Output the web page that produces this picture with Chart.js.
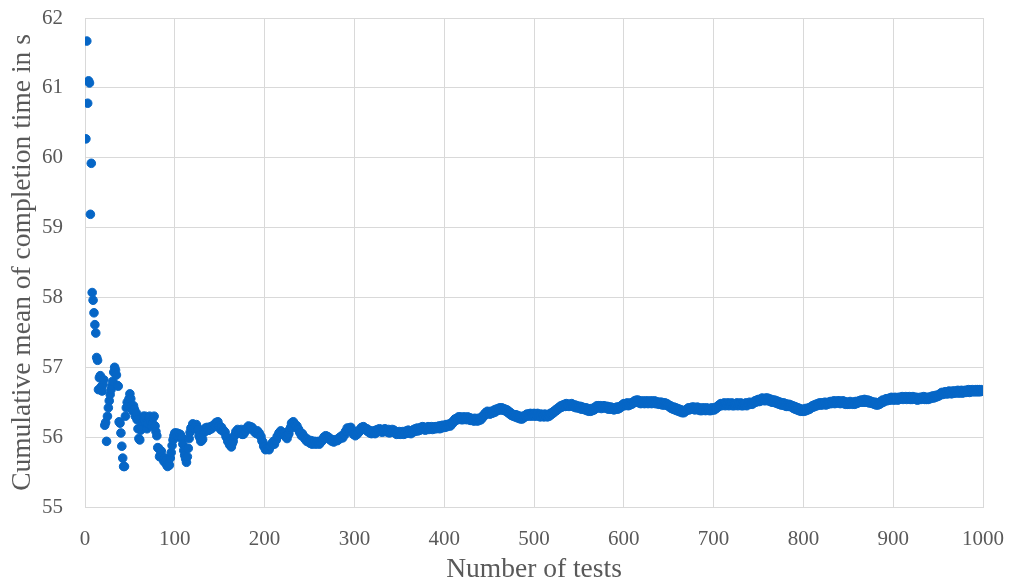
<!DOCTYPE html>
<html>
<head>
<meta charset="utf-8">
<title>Cumulative mean of completion time</title>
<script src="https://cdn.jsdelivr.net/npm/chart.js@4/dist/chart.umd.min.js"></script>
<style>
  html, body { margin: 0; padding: 0; background: #ffffff; }
  #wrap { width: 1009px; height: 582px; }
</style>
</head>
<body>
<div id="wrap"><canvas id="chart" width="1009" height="582"></canvas></div>
<script>
// Axis text
const xAxisTitle = 'Number of tests';
const yAxisTitle = 'Cumulative mean of completion time in s';
const xTickValues = [0, 100, 200, 300, 400, 500, 600, 700, 800, 900, 1000];
const yTickValues = [55, 56, 57, 58, 59, 60, 61, 62];

// Cumulative mean (s) after each test, tests 1..1000 in blocks of 100
const meanTests001to100 = [
  60.27, 61.67, 60.78, 61.10, 61.07, 59.19, 59.92, 58.07, 57.96, 57.78,
  57.61, 57.49, 57.14, 57.10, 56.68, 56.85, 56.88, 56.72, 56.66, 56.75,
  56.82, 56.17, 56.21, 55.94, 56.30, 56.42, 56.52, 56.61, 56.68, 56.74,
  56.80, 56.93, 57.00, 56.96, 56.89, 56.74, 56.73, 56.22, 56.20, 56.06,
  55.87, 55.70, 55.58, 55.58, 56.30, 56.42, 56.50, 56.45, 56.55, 56.62,
  56.55, 56.45, 56.38, 56.45, 56.40, 56.30, 56.35, 56.25, 56.12, 55.98,
  55.96, 56.10, 56.15, 56.22, 56.30, 56.25, 56.30, 56.20, 56.12, 56.20,
  56.28, 56.30, 56.22, 56.16, 56.20, 56.28, 56.30, 56.16, 56.08, 56.02,
  55.85, 55.84, 55.72, 55.75, 55.80, 55.72, 55.68, 55.65, 55.70, 55.66,
  55.60, 55.58, 55.62, 55.60, 55.70, 55.78, 55.88, 55.96, 56.02, 56.06
];
const meanTests101to200 = [
  56.03, 56.06, 56.02, 56.05, 56.00, 56.04, 56.01, 55.99, 55.90, 55.81,
  55.74, 55.69, 55.64, 55.72, 55.84, 55.98, 56.07, 56.13, 56.14, 56.19,
  56.14, 56.13, 56.12, 56.18, 56.14, 56.11, 56.02, 55.99, 55.94, 55.95,
  55.97, 56.06, 56.09, 56.13, 56.09, 56.14, 56.10, 56.10, 56.11, 56.15,
  56.12, 56.16, 56.15, 56.18, 56.16, 56.21, 56.18, 56.22, 56.16, 56.16,
  56.11, 56.14, 56.09, 56.10, 56.08, 56.07, 56.01, 55.99, 55.94, 55.93,
  55.89, 55.89, 55.86, 55.91, 55.94, 56.01, 56.03, 56.08, 56.08, 56.11,
  56.07, 56.07, 56.07, 56.11, 56.04, 56.04, 56.05, 56.09, 56.09, 56.13,
  56.13, 56.16, 56.12, 56.15, 56.14, 56.14, 56.11, 56.11, 56.07, 56.08,
  56.05, 56.09, 56.06, 56.06, 56.02, 56.01, 55.95, 55.93, 55.87, 55.86
];
const meanTests201to300 = [
  55.82, 55.83, 55.83, 55.83, 55.82, 55.87, 55.87, 55.91, 55.91, 55.94,
  55.90, 55.95, 55.96, 56.01, 56.02, 56.06, 56.06, 56.09, 56.05, 56.06,
  56.06, 56.06, 56.01, 56.01, 55.98, 56.03, 56.05, 56.11, 56.14, 56.20,
  56.21, 56.22, 56.19, 56.18, 56.15, 56.16, 56.12, 56.11, 56.07, 56.06,
  56.02, 56.05, 56.01, 56.01, 55.97, 55.98, 55.94, 55.97, 55.93, 55.94,
  55.91, 55.95, 55.90, 55.91, 55.91, 55.94, 55.90, 55.93, 55.93, 55.94,
  55.90, 55.93, 55.93, 55.96, 55.96, 56.00, 55.99, 56.02, 56.01, 56.01,
  55.98, 55.99, 55.96, 55.97, 55.94, 55.96, 55.93, 55.96, 55.95, 55.96,
  55.95, 55.98, 55.97, 56.00, 55.99, 56.02, 55.99, 56.03, 56.03, 56.08,
  56.09, 56.13, 56.12, 56.13, 56.09, 56.14, 56.11, 56.09, 56.04, 56.04
];
const meanTests301to400 = [
  56.02, 56.05, 56.04, 56.08, 56.07, 56.11, 56.10, 56.14, 56.12, 56.15,
  56.11, 56.13, 56.10, 56.12, 56.08, 56.10, 56.06, 56.09, 56.05, 56.08,
  56.06, 56.09, 56.05, 56.10, 56.07, 56.11, 56.08, 56.12, 56.08, 56.10,
  56.07, 56.11, 56.08, 56.12, 56.09, 56.10, 56.07, 56.11, 56.06, 56.09,
  56.07, 56.11, 56.08, 56.10, 56.06, 56.08, 56.04, 56.07, 56.05, 56.08,
  56.04, 56.07, 56.05, 56.08, 56.04, 56.06, 56.05, 56.09, 56.06, 56.10,
  56.06, 56.08, 56.05, 56.09, 56.07, 56.11, 56.08, 56.12, 56.09, 56.13,
  56.09, 56.12, 56.10, 56.14, 56.11, 56.15, 56.11, 56.14, 56.10, 56.13,
  56.12, 56.15, 56.11, 56.14, 56.12, 56.15, 56.11, 56.13, 56.12, 56.15,
  56.12, 56.15, 56.13, 56.16, 56.12, 56.16, 56.13, 56.17, 56.14, 56.16
];
const meanTests401to500 = [
  56.14, 56.18, 56.15, 56.18, 56.16, 56.19, 56.16, 56.20, 56.19, 56.23,
  56.22, 56.26, 56.24, 56.27, 56.25, 56.29, 56.26, 56.29, 56.25, 56.28,
  56.25, 56.29, 56.26, 56.28, 56.25, 56.29, 56.26, 56.28, 56.24, 56.27,
  56.24, 56.26, 56.23, 56.27, 56.24, 56.26, 56.23, 56.27, 56.24, 56.27,
  56.25, 56.29, 56.28, 56.32, 56.31, 56.35, 56.33, 56.37, 56.34, 56.36,
  56.33, 56.37, 56.34, 56.37, 56.35, 56.39, 56.36, 56.40, 56.38, 56.41,
  56.39, 56.42, 56.39, 56.42, 56.39, 56.41, 56.38, 56.40, 56.37, 56.39,
  56.35, 56.37, 56.33, 56.35, 56.31, 56.33, 56.30, 56.32, 56.29, 56.32,
  56.28, 56.31, 56.27, 56.30, 56.26, 56.29, 56.26, 56.30, 56.28, 56.31,
  56.30, 56.33, 56.30, 56.33, 56.31, 56.34, 56.30, 56.33, 56.31, 56.34
];
const meanTests501to600 = [
  56.30, 56.33, 56.31, 56.34, 56.30, 56.32, 56.29, 56.33, 56.30, 56.32,
  56.29, 56.33, 56.30, 56.32, 56.29, 56.32, 56.30, 56.34, 56.32, 56.35,
  56.34, 56.37, 56.36, 56.39, 56.38, 56.41, 56.40, 56.43, 56.42, 56.45,
  56.43, 56.46, 56.44, 56.47, 56.44, 56.48, 56.45, 56.47, 56.44, 56.47,
  56.45, 56.48, 56.44, 56.46, 56.43, 56.46, 56.42, 56.45, 56.42, 56.44,
  56.41, 56.44, 56.40, 56.43, 56.40, 56.42, 56.39, 56.42, 56.38, 56.41,
  56.37, 56.40, 56.37, 56.41, 56.38, 56.41, 56.39, 56.43, 56.41, 56.45,
  56.42, 56.45, 56.42, 56.45, 56.41, 56.44, 56.42, 56.45, 56.42, 56.44,
  56.41, 56.44, 56.40, 56.43, 56.40, 56.43, 56.40, 56.42, 56.39, 56.42,
  56.40, 56.43, 56.40, 56.43, 56.41, 56.44, 56.43, 56.46, 56.45, 56.48
];
const meanTests601to700 = [
  56.45, 56.48, 56.46, 56.49, 56.45, 56.48, 56.46, 56.49, 56.47, 56.50,
  56.49, 56.52, 56.50, 56.53, 56.50, 56.53, 56.49, 56.52, 56.48, 56.51,
  56.49, 56.52, 56.48, 56.51, 56.49, 56.52, 56.48, 56.51, 56.49, 56.52,
  56.48, 56.51, 56.49, 56.52, 56.48, 56.51, 56.48, 56.50, 56.47, 56.50,
  56.47, 56.50, 56.46, 56.49, 56.46, 56.49, 56.46, 56.48, 56.45, 56.46,
  56.43, 56.45, 56.41, 56.43, 56.40, 56.43, 56.39, 56.42, 56.38, 56.41,
  56.37, 56.40, 56.36, 56.39, 56.35, 56.38, 56.35, 56.38, 56.37, 56.40,
  56.39, 56.42, 56.39, 56.42, 56.40, 56.43, 56.40, 56.43, 56.39, 56.42,
  56.40, 56.43, 56.39, 56.42, 56.38, 56.41, 56.38, 56.42, 56.39, 56.41,
  56.38, 56.42, 56.39, 56.41, 56.38, 56.41, 56.38, 56.42, 56.39, 56.41
];
const meanTests701to800 = [
  56.39, 56.42, 56.41, 56.44, 56.43, 56.46, 56.45, 56.48, 56.45, 56.48,
  56.46, 56.49, 56.45, 56.48, 56.46, 56.49, 56.45, 56.48, 56.46, 56.49,
  56.45, 56.48, 56.45, 56.48, 56.46, 56.49, 56.45, 56.48, 56.46, 56.49,
  56.45, 56.48, 56.45, 56.48, 56.46, 56.49, 56.45, 56.48, 56.47, 56.50,
  56.47, 56.49, 56.47, 56.50, 56.49, 56.52, 56.50, 56.53, 56.51, 56.54,
  56.51, 56.54, 56.52, 56.56, 56.53, 56.55, 56.52, 56.56, 56.53, 56.56,
  56.52, 56.55, 56.51, 56.54, 56.50, 56.53, 56.50, 56.53, 56.49, 56.52,
  56.48, 56.51, 56.47, 56.50, 56.46, 56.49, 56.46, 56.49, 56.45, 56.48,
  56.44, 56.47, 56.44, 56.47, 56.44, 56.46, 56.43, 56.45, 56.41, 56.44,
  56.40, 56.43, 56.39, 56.42, 56.38, 56.41, 56.37, 56.40, 56.37, 56.39
];
const meanTests801to900 = [
  56.37, 56.41, 56.38, 56.41, 56.39, 56.42, 56.40, 56.43, 56.42, 56.45,
  56.43, 56.46, 56.44, 56.47, 56.45, 56.48, 56.46, 56.49, 56.46, 56.49,
  56.46, 56.49, 56.47, 56.50, 56.46, 56.49, 56.47, 56.50, 56.48, 56.51,
  56.48, 56.51, 56.49, 56.52, 56.48, 56.51, 56.49, 56.52, 56.49, 56.52,
  56.48, 56.51, 56.49, 56.52, 56.48, 56.51, 56.47, 56.50, 56.47, 56.50,
  56.47, 56.51, 56.48, 56.50, 56.47, 56.50, 56.47, 56.51, 56.48, 56.51,
  56.49, 56.52, 56.50, 56.53, 56.50, 56.53, 56.50, 56.54, 56.50, 56.53,
  56.50, 56.53, 56.49, 56.52, 56.49, 56.51, 56.48, 56.50, 56.47, 56.50,
  56.46, 56.49, 56.46, 56.49, 56.47, 56.51, 56.49, 56.53, 56.50, 56.53,
  56.52, 56.55, 56.52, 56.55, 56.53, 56.56, 56.53, 56.57, 56.54, 56.56
];
const meanTests901to1000 = [
  56.53, 56.57, 56.54, 56.56, 56.53, 56.57, 56.54, 56.57, 56.55, 56.58,
  56.54, 56.57, 56.55, 56.58, 56.54, 56.57, 56.55, 56.58, 56.54, 56.57,
  56.54, 56.58, 56.55, 56.57, 56.54, 56.57, 56.53, 56.56, 56.54, 56.57,
  56.54, 56.57, 56.55, 56.58, 56.54, 56.57, 56.54, 56.57, 56.54, 56.57,
  56.55, 56.58, 56.56, 56.59, 56.56, 56.59, 56.57, 56.60, 56.58, 56.60,
  56.59, 56.62, 56.61, 56.64, 56.61, 56.64, 56.62, 56.65, 56.62, 56.65,
  56.62, 56.66, 56.63, 56.65, 56.62, 56.66, 56.63, 56.66, 56.63, 56.66,
  56.64, 56.67, 56.63, 56.66, 56.64, 56.67, 56.63, 56.66, 56.64, 56.67,
  56.64, 56.67, 56.65, 56.68, 56.64, 56.67, 56.65, 56.68, 56.65, 56.67,
  56.65, 56.68, 56.65, 56.68, 56.65, 56.68, 56.65, 56.68, 56.66, 56.66
];

const cumulativeMeans = [].concat(
  meanTests001to100, meanTests101to200, meanTests201to300, meanTests301to400,
  meanTests401to500, meanTests501to600, meanTests601to700, meanTests701to800,
  meanTests801to900, meanTests901to1000
);
// x = test number (1-based), y = running mean after that test
const points = cumulativeMeans.map((v, i) => ({ x: i + 1, y: v }));

const serif = "'Liberation Serif', 'Times New Roman', serif";
const textGrey = '#595959';
const gridGrey = '#d9d9d9';
const dotBlue = '#0666c6';

// Keep the plot box fixed: no extra padding for overhanging tick labels
function trimScalePadding(scale) {
  scale.paddingTop = 0;
  scale.paddingBottom = 0;
  scale.paddingLeft = 0;
  scale.paddingRight = 0;
}

new Chart(document.getElementById('chart'), {
  type: 'scatter',
  data: {
    datasets: [{
      data: points,
      backgroundColor: dotBlue,
      borderColor: dotBlue,
      borderWidth: 1,
      pointRadius: 4.3,
      pointHoverRadius: 4.3
    }]
  },
  options: {
    responsive: false,
    animation: false,
    devicePixelRatio: 1,
    layout: { padding: { left: 0, right: 26, top: 18, bottom: 0 } },
    plugins: { legend: { display: false }, tooltip: { enabled: false } },
    scales: {
      x: {
        type: 'linear',
        min: 0,
        max: 1000,
        afterBuildTicks: (scale) => { scale.ticks = xTickValues.map(v => ({ value: v })); },
        afterFit: (scale) => { scale.height = 75; trimScalePadding(scale); },
        ticks: {
          color: textGrey,
          font: { family: serif, size: 21 },
          padding: 20,
          maxRotation: 0,
          callback: (v) => String(v)
        },
        grid: { color: gridGrey, lineWidth: 1, drawTicks: false },
        border: { color: gridGrey, width: 1 },
        title: {
          display: true, text: xAxisTitle, color: textGrey,
          font: { family: serif, size: 27.5, lineHeight: 0.89 },
          padding: { top: 0, bottom: 0 }
        }
      },
      y: {
        type: 'linear',
        min: 55,
        max: 62,
        afterBuildTicks: (scale) => { scale.ticks = yTickValues.map(v => ({ value: v })); },
        afterFit: (scale) => { scale.width = 85; trimScalePadding(scale); },
        ticks: {
          color: textGrey,
          font: { family: serif, size: 21 },
          padding: 22,
          callback: (v) => String(v)
        },
        grid: { color: gridGrey, lineWidth: 1, drawTicks: false },
        border: { color: gridGrey, width: 1 },
        title: {
          display: true, text: yAxisTitle, color: textGrey,
          font: { family: serif, size: 27.5 },
          padding: { top: 6, bottom: 0 }
        }
      }
    }
  }
});
</script>
</body>
</html>
